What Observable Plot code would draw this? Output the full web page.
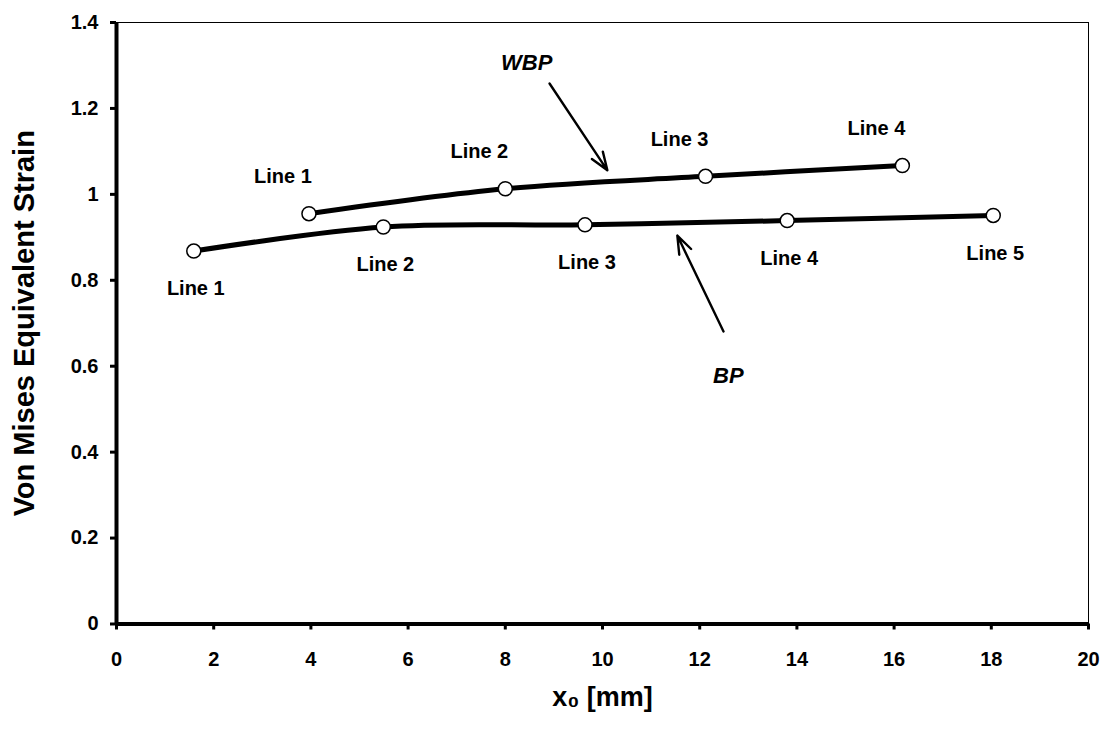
<!DOCTYPE html>
<html>
<head>
<meta charset="utf-8">
<script src="https://cdn.jsdelivr.net/npm/d3@7"></script>
<script src="https://cdn.jsdelivr.net/npm/@observablehq/plot@0.6"></script>
<style>
  html, body { margin: 0; padding: 0; background: #fff; }
</style>
</head>
<body>
<div id="chart"></div>
<script>
// ---- data ----
const bpX = [1.59, 5.49, 9.64, 13.80, 18.04];
const bpY = [0.868, 0.924, 0.929, 0.939, 0.951];
const bpLabels = ["Line 1", "Line 2", "Line 3", "Line 4", "Line 5"];

const wbpX = [3.96, 8.0, 12.12, 16.17];
const wbpY = [0.955, 1.013, 1.042, 1.067];
const wbpLabels = ["Line 1", "Line 2", "Line 3", "Line 4"];

const xTicks = [0, 2, 4, 6, 8, 10, 12, 14, 16, 18, 20];
const yTicks = [0, 0.2, 0.4, 0.6, 0.8, 1, 1.2, 1.4];

// annotation callouts (data units)
const notes = [
  {name: "WBP", tx: 8.44, ty: 1.305, x1: 8.91, y1: 1.258, x2: 10.10, y2: 1.056},
  {name: "BP",  tx: 12.59, ty: 0.578, x1: 12.49, y1: 0.681, x2: 11.54, y2: 0.904}
];

const bp = bpX.map((x, i) => ({x, y: bpY[i], label: bpLabels[i]}));
const wbp = wbpX.map((x, i) => ({x, y: wbpY[i], label: wbpLabels[i]}));

const chart = Plot.plot({
  width: 1104,
  height: 742,
  marginLeft: 116,
  marginRight: 16,
  marginTop: 22,
  marginBottom: 118.5,
  x: {domain: [0, 20]},
  y: {domain: [0, 1.4]},
  style: {fontFamily: "'Liberation Sans', Arial, sans-serif", fontWeight: "bold", fontSize: "20px", background: "white", color: "black"},
  marks: [
    Plot.frame({stroke: "black", strokeWidth: 1}),
    Plot.axisX({ticks: xTicks, tickSize: 6, tickPadding: 22, fontSize: 20, fontWeight: "bold", strokeWidth: 3, label: null, tickFormat: d => String(d)}),
    Plot.axisY({ticks: yTicks, tickSize: 6, tickPadding: 12, fontSize: 20, fontWeight: "bold", strokeWidth: 3, label: null, tickFormat: d => String(d)}),
    Plot.ruleX([0], {strokeWidth: 4}),
    Plot.ruleY([0], {strokeWidth: 4}),
    Plot.line(bp, {x: "x", y: "y", curve: "catmull-rom", strokeWidth: 5, stroke: "black"}),
    Plot.line(wbp, {x: "x", y: "y", curve: "catmull-rom", strokeWidth: 5, stroke: "black"}),
    Plot.dot(bp, {x: "x", y: "y", r: 7, fill: "white", stroke: "black", strokeWidth: 1.5}),
    Plot.dot(wbp, {x: "x", y: "y", r: 7, fill: "white", stroke: "black", strokeWidth: 1.5}),
    Plot.text(wbp, {x: "x", y: "y", text: "label", dx: -26, dy: -37, fontSize: 20, fontWeight: "bold"}),
    Plot.text(bp, {x: "x", y: "y", text: "label", dx: 2, dy: 38, fontSize: 20, fontWeight: "bold"}),
    Plot.arrow(notes, {x1: "x1", y1: "y1", x2: "x2", y2: "y2", strokeWidth: 2.4, headLength: 12, headAngle: 40, stroke: "black"}),
    Plot.text(notes, {x: "tx", y: "ty", text: "name", fontSize: 22, fontWeight: "bold", fontStyle: "italic"}),
    Plot.text(["Von Mises Equivalent Strain"], {frameAnchor: "left", textAnchor: "middle", dx: -92, rotate: -90, fontSize: 29, fontWeight: "bold"}),
    Plot.text(["x\u2080 [mm]"], {frameAnchor: "bottom", textAnchor: "middle", dy: 81.5, fontSize: 27, fontWeight: "bold"})
  ]
});
document.getElementById("chart").appendChild(chart);
</script>
</body>
</html>
